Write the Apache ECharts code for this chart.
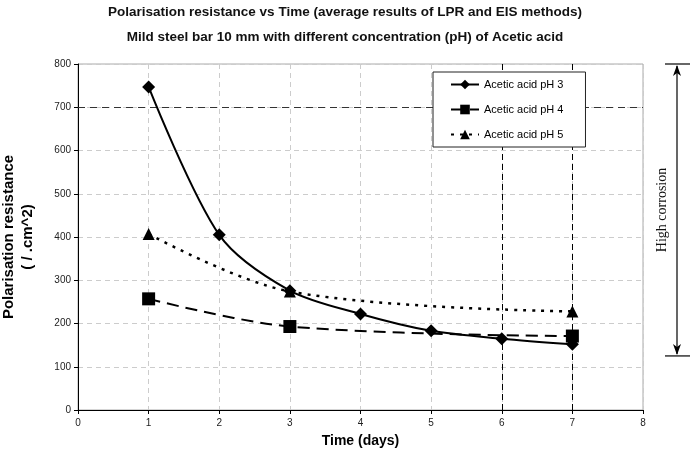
<!DOCTYPE html>
<html>
<head>
<meta charset="utf-8">
<script src="https://cdn.jsdelivr.net/npm/echarts@6/dist/echarts.min.js"></script>
<style>
  html, body { margin: 0; padding: 0; background: #fff; }
  #chart { width: 690px; height: 450px; }
</style>
</head>
<body>
<div id="chart"></div>
<script>
// values
var ph3Days = [1, 2, 3, 4, 5, 6, 7];
var ph3Values = [747, 405, 276, 222, 183, 165, 152];
var ph4Days = [1, 3, 7];
var ph4Values = [257, 193, 171];
var ph5Days = [1, 3, 7];
var ph5Values = [407, 274, 228];
var seriesNames = ['Acetic acid pH 3', 'Acetic acid pH 4', 'Acetic acid pH 5'];
var thresholdValue = 700;       // horizontal dashed line
var markedDays = [6, 7];        // vertical dashed lines
var corrosionRange = [800, 125]; // extent of the "High corrosion" arrow

function pairs(xs, ys) {
  var out = [];
  for (var i = 0; i < xs.length; i++) out.push([xs[i], ys[i]]);
  return out;
}

var chart = echarts.init(document.getElementById('chart'));

var font = 'Liberation Sans, Arial, sans-serif';

var option = {
  animation: false,
  backgroundColor: '#fff',
  title: {
    text: 'Polarisation resistance vs Time (average results of LPR and EIS methods)\nMild steel bar 10 mm with different concentration (pH) of Acetic acid',
    left: 'center',
    top: 0,
    padding: 0,
    textStyle: { fontFamily: font, fontSize: 13.5, fontWeight: 'bold', color: '#111', lineHeight: 25 }
  },
  legend: {
    orient: 'vertical',
    left: 433,
    top: 72,
    z: 20,
    padding: [7, 22, 7, 17],
    itemGap: 14,
    itemWidth: 28,
    itemHeight: 12,
    backgroundColor: '#fff',
    borderColor: '#222',
    borderWidth: 1,
    textStyle: { fontFamily: font, fontSize: 11, color: '#000' },
    data: seriesNames
  },
  grid: {
    left: 78, right: 47, top: 64, bottom: 40,
    outerBoundsMode: 'none',
    containLabel: false,
    show: true, borderColor: '#aaa', borderWidth: 1
  },
  xAxis: {
    type: 'value',
    min: 0, max: 8, interval: 1,
    name: 'Time (days)',
    nameLocation: 'middle',
    nameGap: 24,
    nameTextStyle: { fontFamily: font, fontSize: 14, fontWeight: 'bold', color: '#000' },
    axisLine: { lineStyle: { color: '#000', width: 1 } },
    axisTick: { length: 4, lineStyle: { color: '#000' } },
    axisLabel: { margin: 8, fontFamily: font, fontSize: 10, color: '#222' },
    splitLine: { lineStyle: { color: '#ccc', type: [5, 4] } }
  },
  yAxis: {
    type: 'value',
    min: 0, max: 800, interval: 100,
    name: 'Polarisation resistance\n( / .cm^2)',
    nameLocation: 'middle',
    nameGap: 41,
    nameTextStyle: { fontFamily: font, fontSize: 15, fontWeight: 'bold', color: '#000', lineHeight: 19 },
    axisLine: { show: true, lineStyle: { color: '#000', width: 1 } },
    axisTick: { show: true, length: 4, lineStyle: { color: '#000' } },
    axisLabel: { margin: 7, fontFamily: font, fontSize: 10, color: '#222' },
    splitLine: { lineStyle: { color: '#ccc', type: [5, 4] } }
  },
  series: [
    {
      name: seriesNames[0],
      type: 'line',
      data: pairs(ph3Days, ph3Values),
      smooth: 0.3,
      symbol: 'diamond',
      symbolSize: 13,
      itemStyle: { color: '#000' },
      lineStyle: { color: '#000', width: 2 },
      z: 5,
      markLine: {
        silent: true,
        symbol: 'none',
        label: { show: false },
        data: [
          { yAxis: thresholdValue, lineStyle: { color: '#333', type: [7, 5], width: 1 } },
          { xAxis: markedDays[0], lineStyle: { color: '#000', type: [6, 4], width: 1 } },
          { xAxis: markedDays[1], lineStyle: { color: '#000', type: [6, 4], width: 1 } }
        ]
      }
    },
    {
      name: seriesNames[1],
      type: 'line',
      data: pairs(ph4Days, ph4Values),
      smooth: 0.35,
      symbol: 'rect',
      symbolSize: 13,
      itemStyle: { color: '#000' },
      lineStyle: { color: '#000', width: 2, type: [12, 7] },
      z: 4
    },
    {
      name: seriesNames[2],
      type: 'line',
      data: pairs(ph5Days, ph5Values),
      smooth: 0.35,
      symbol: 'triangle',
      symbolSize: 12,
      itemStyle: { color: '#000' },
      lineStyle: { color: '#000', width: 2.5, type: [3, 6] },
      z: 3
    }
  ]
};

chart.setOption(option);

// "High corrosion" double arrow to the right of the plot
var yTop = chart.convertToPixel({ yAxisIndex: 0 }, corrosionRange[0]);
var yBot = chart.convertToPixel({ yAxisIndex: 0 }, corrosionRange[1]);
var ax = 677;
var ink = { stroke: '#000', lineWidth: 1.2 };
chart.setOption({
  graphic: [
    { type: 'line', shape: { x1: ax, y1: yTop + 2, x2: ax, y2: yBot - 2 }, style: ink },
    { type: 'line', shape: { x1: 665, y1: yTop, x2: 690, y2: yTop }, style: ink },
    { type: 'line', shape: { x1: 665, y1: yBot, x2: 690, y2: yBot }, style: ink },
    { type: 'polygon', shape: { points: [[ax, yTop + 1], [ax - 4, yTop + 12], [ax, yTop + 9], [ax + 4, yTop + 12]] }, style: { fill: '#000' } },
    { type: 'polygon', shape: { points: [[ax, yBot - 1], [ax - 4, yBot - 12], [ax, yBot - 9], [ax + 4, yBot - 12]] }, style: { fill: '#000' } },
    {
      type: 'text',
      x: 662, y: (yTop + yBot) / 2,
      rotation: Math.PI / 2,
      style: {
        text: 'High corrosion',
        fontFamily: 'Liberation Serif, Times New Roman, serif',
        fontSize: 14,
        fill: '#111',
        align: 'center',
        verticalAlign: 'middle'
      }
    }
  ]
});
</script>
</body>
</html>
